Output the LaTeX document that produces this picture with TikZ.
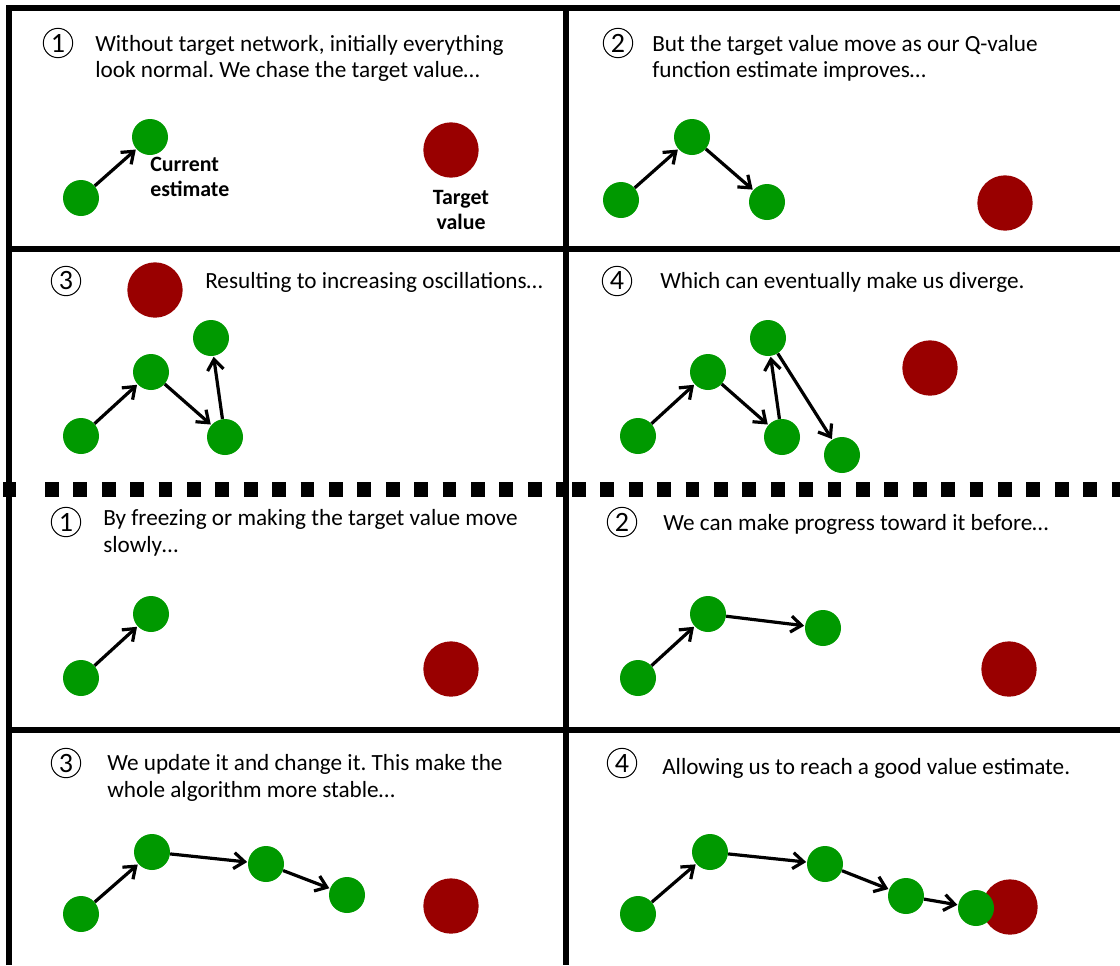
\documentclass[tikz,border=0pt]{standalone}
\usepackage{fontspec}
\setmainfont{Carlito}
\frenchspacing
\usetikzlibrary{arrows.meta}
\definecolor{gr}{RGB}{0,153,0}
\definecolor{rd}{RGB}{153,0,0}
\begin{document}
\begin{tikzpicture}[x=0.75pt,y=-0.75pt,
  est/.style={circle, fill=gr, minimum size=27pt, inner sep=0pt},
  tgt/.style={circle, fill=rd, minimum size=41.5pt, inner sep=0pt},
  arr/.style={-{Straight Barb[length=8pt,width=12pt]}, line width=2.4pt, shorten >=0.5pt},
  num/.style={circle, draw, line width=0.75pt, minimum size=22pt, inner sep=0pt, font=\fontsize{21pt}{21pt}\selectfont},
  txt/.style={anchor=base west, inner sep=0pt, font=\fontsize{17.4pt}{20pt}\selectfont},
  lbl/.style={inner sep=0pt, font=\fontsize{16.4pt}{20pt}\selectfont\bfseries},
  frame/.style={line width=3.9pt},
  sep/.style={line width=11.25pt, dash pattern=on 10.4pt off 10.9pt}]
\useasboundingbox (0,0) rectangle (1120,965);
% frame
\draw[frame] (9,965) -- (9,8) -- (1120,8);
\draw[frame] (566,8) -- (566,965);
\draw[frame] (9,249) -- (1120,249);
\draw[frame] (9,730) -- (1120,730);
\draw[sep] (45,489.5) -- (566,489.5);
\draw[sep] (572,489.5) -- (1120,489.5);
\fill (3,482) rectangle (16,497);

% Panel 1
\node[num] (n1) at (58,43) {1};
\node[txt] (t1a) at (95,51) {Without target network, initially everything};
\node[txt] (t1b) at (95,77) {look normal. We chase the target value…};
\node[tgt] (r1) at (451,150) {};
\node[est] (a1) at (81,198) {};
\node[est] (a2) at (150,137) {};
\draw[arr] (a1) -- (a2);
\node[lbl, anchor=base west] (l1a) at (150,171) {Current};
\node[lbl, anchor=base west] (l1b) at (150,196) {estimate};
\node[lbl, anchor=base] (l1c) at (461,204) {Target};
\node[lbl, anchor=base] (l1d) at (461,229) {value};

% Panel 2
\node[num] (n2) at (618,43) {2};
\node[txt] (t2a) at (652,51) {But the target value move as our Q-value};
\node[txt] (t2b) at (652,77) {function estimate improves…};
\node[tgt] (r2) at (1005,203) {};
\node[est] (b1) at (621,200) {};
\node[est] (b2) at (692,137) {};
\node[est] (b3) at (767,202) {};
\draw[arr] (b1) -- (b2);
\draw[arr] (b2) -- (b3);

% Panel 3
\node[num] (n3) at (66,281) {3};
\node[txt] (t3a) at (205,288) {Resulting to increasing oscillations…};
\node[tgt] (r3) at (155,290) {};
\node[est] (c1) at (81,436) {};
\node[est] (c2) at (151,372) {};
\node[est] (c3) at (225,437) {};
\node[est] (c4) at (211,338) {};
\draw[arr] (c1) -- (c2);
\draw[arr] (c2) -- (c3);
\draw[arr] (c3) -- (c4);

% Panel 4
\node[num] (n4) at (617,281) {4};
\node[txt] (t4a) at (660,288) {Which can eventually make us diverge.};
\node[tgt] (r4) at (930,368) {};
\node[est] (d1) at (638,436) {};
\node[est] (d2) at (708,372) {};
\node[est] (d3) at (782,437) {};
\node[est] (d4) at (768,338) {};
\node[est] (d5) at (842,455) {};
\draw[arr] (d1) -- (d2);
\draw[arr] (d2) -- (d3);
\draw[arr] (d3) -- (d4);
\draw[arr] (d4) -- (d5);

% Panel 5
\node[num] (n5) at (66,522) {1};
\node[txt] (t5a) at (103,525) {By freezing or making the target value move};
\node[txt] (t5b) at (103,552) {slowly…};
\node[tgt] (r5) at (451,669) {};
\node[est] (e1) at (81,678) {};
\node[est] (e2) at (151,614) {};
\draw[arr] (e1) -- (e2);

% Panel 6
\node[num] (n6) at (622,522) {2};
\node[txt] (t6a) at (663,530) {We can make progress toward it before…};
\node[tgt] (r6) at (1009,669) {};
\node[est] (f1) at (638,678) {};
\node[est] (f2) at (708,614) {};
\node[est] (f3) at (823,628) {};
\draw[arr] (f1) -- (f2);
\draw[arr] (f2) -- (f3);

% Panel 7
\node[num] (n7) at (66,763) {3};
\node[txt] (t7a) at (107,770) {We update it and change it. This make the};
\node[txt] (t7b) at (107,797) {whole algorithm more stable…};
\node[tgt] (r7) at (451,906) {};
\node[est] (g1) at (81,914) {};
\node[est] (g2) at (152,852) {};
\node[est] (g3) at (266,864) {};
\node[est] (g4) at (347,895) {};
\draw[arr] (g1) -- (g2);
\draw[arr] (g2) -- (g3);
\draw[arr] (g3) -- (g4);

% Panel 8
\node[num] (n8) at (622,763) {4};
\node[txt] (t8a) at (662,774) {Allowing us to reach a good value estimate.};
\node[tgt] (r8) at (1010,907) {};
\node[est] (h1) at (638,914) {};
\node[est] (h2) at (710,852) {};
\node[est] (h3) at (825,864) {};
\node[est] (h4) at (906,896) {};
\node[est] (h5) at (976,908) {};
\draw[arr] (h1) -- (h2);
\draw[arr] (h2) -- (h3);
\draw[arr] (h3) -- (h4);
\draw[arr] (h4) -- (h5);
\end{tikzpicture}
\end{document}
